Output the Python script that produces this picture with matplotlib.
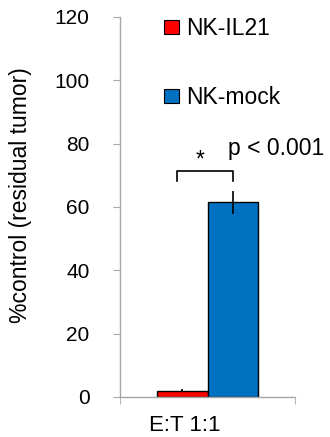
import matplotlib.pyplot as plt
from matplotlib.patches import Patch

plt.rcParams['font.family'] = ['Liberation Sans', 'DejaVu Sans']

groups = ['NK-IL21', 'NK-mock']
values = [2.0, 61.5]
errors = [0.4, 3.7]
colors = ['#FF0000', '#0070C0']
category = 'E:T 1:1'
yticks = [0, 20, 40, 60, 80, 100, 120]
pval = 'p < 0.001'

fig = plt.figure(figsize=(3.3, 4.37), dpi=100)
ax = fig.add_axes([120/330, 40/437, 175/330, 380/437])

w = 0.286
xs = [-w/2, w/2]
ax.bar(xs, values, width=w, color=colors, edgecolor='black', linewidth=1.0,
       yerr=errors, ecolor='black', error_kw=dict(elinewidth=1.2, capsize=0))

# significance bracket
bl, br, btop, bend = -0.173, w/2, 71.4, 68.2
ax.plot([bl, bl, br, br], [bend, btop, btop, bend], color='black', lw=1.2)
ax.text(-0.043, 72.9, '*', ha='center', va='baseline', fontsize=16.5)
ax.text(0.117, 76.4, pval, ha='left', va='baseline', fontsize=16.5)

ax.set_xlim(-0.5, 0.5)
ax.set_ylim(0, 120)
ax.set_yticks(yticks)
ax.tick_params(axis='y', labelsize=15, length=5, color='#A6A6A6', pad=17)
ax.set_xticks([-0.131], [category])
ax.set_xticks([-0.5, 0.5], minor=True)
ax.tick_params(axis='x', which='major', length=0, labelsize=16, pad=13)
ax.tick_params(axis='x', which='minor', length=5, color='#A6A6A6')

for s in ['top', 'right']:
    ax.spines[s].set_visible(False)
for s in ['left', 'bottom']:
    ax.spines[s].set_color('#A6A6A6')
    ax.spines[s].set_linewidth(1.0)

ax.set_ylabel('%control (residual tumor)', fontsize=16.5)
ax.yaxis.set_label_coords(-0.5, 0.532)

handles = [Patch(facecolor=c, edgecolor='black', linewidth=0.8) for c in colors]
ax.legend(handles, groups, loc='upper left', bbox_to_anchor=(164/330, 1 - 17/437),
          bbox_transform=fig.transFigure, frameon=False, fontsize=16.5,
          handlelength=0.65, handleheight=0.55, handletextpad=0.3,
          labelspacing=2.0, borderpad=0, borderaxespad=0)

fig.savefig('out.png', dpi=100)
